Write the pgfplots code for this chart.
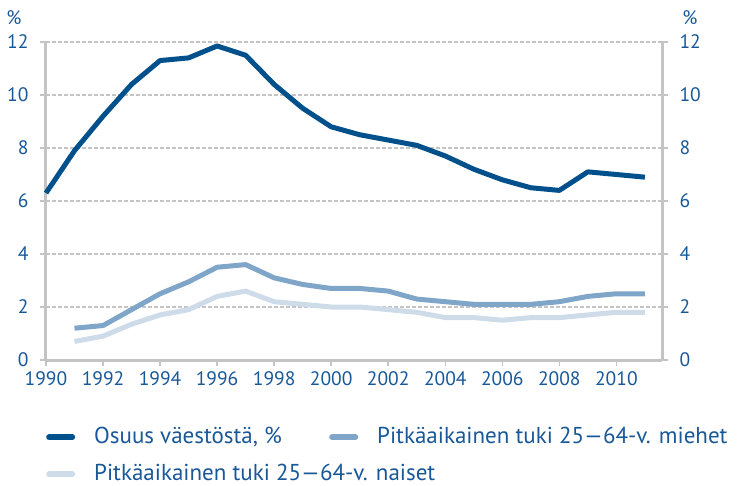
\documentclass[border=0pt]{standalone}
\usepackage{fontspec}
\setmainfont{PT Sans}
\usepackage{pgfplots}
\pgfplotsset{compat=1.18}
\definecolor{cMain}{RGB}{0,80,140}
\definecolor{cMen}{RGB}{127,166,200}
\definecolor{cWomen}{RGB}{206,220,234}
\definecolor{cText}{RGB}{25,88,152}
\definecolor{cGrid}{RGB}{196,196,196}
\begin{document}
\begin{tikzpicture}
\path[use as bounding box] (-46bp,-126bp) rectangle (691bp,360bp);
\begin{axis}[
  scale only axis, width=616bp, height=318bp,
  xmin=1990, xmax=2011.6, ymin=0, ymax=12,
  axis x line*=bottom, axis y line*=left,
  axis line style={cGrid, line width=3bp},
  xtick={1990,1992,...,2010}, ytick={0,2,...,12},
  tick align=outside, major tick length=6bp,
  tick style={cGrid, line width=1.5bp},
  ymajorgrids, major grid style={cGrid, line width=1.6bp, dash pattern=on 4bp off 2bp},
  /pgf/number format/1000 sep={}, /pgf/number format/assume math mode=true,
  tick label style={font=\fontsize{19.5bp}{22bp}\selectfont, text=cText},
  yticklabel style={xshift=-8bp},
  xticklabel style={yshift=-2bp},
  legend columns=2,
  legend cell align=left,
  legend image code/.code={\draw[#1, line width=6bp, line cap=round] (0bp,0bp) -- (23bp,0bp);},
  legend style={at={(axis description cs:0,0)}, anchor=north west, xshift=0bp, yshift=-67bp,
    draw=none, fill=none, font=\fontsize{23bp}{26bp}\selectfont, text=cText,
    inner sep=0pt, row sep=17bp,
    nodes={inner sep=0pt, text height=16bp, text depth=4bp},
    /tikz/every even column/.append style={column sep=0bp}},
  clip=false,
]
\addplot[cMain, line width=5bp, line join=round] coordinates {
(1990,6.3) (1991,7.9) (1992,9.2) (1993,10.4) (1994,11.3) (1995,11.4) (1996,11.85) (1997,11.5)
(1998,10.4) (1999,9.5) (2000,8.8) (2001,8.5) (2002,8.3) (2003,8.1) (2004,7.7) (2005,7.2)
(2006,6.8) (2007,6.5) (2008,6.4) (2009,7.1) (2010,7.0) (2011,6.9)};
\addlegendentry{\hspace{19bp}\makebox[235bp][l]{Osuus väestöstä, \%}}
\addplot[cMen, line width=5bp, line join=round] coordinates {
(1991,1.2) (1992,1.3) (1993,1.9) (1994,2.5) (1995,2.95) (1996,3.5) (1997,3.6) (1998,3.1)
(1999,2.85) (2000,2.7) (2001,2.7) (2002,2.6) (2003,2.3) (2004,2.2) (2005,2.1) (2006,2.1)
(2007,2.1) (2008,2.2) (2009,2.4) (2010,2.5) (2011,2.5)};
\addlegendentry{\hspace{19bp}Pitkäaikainen tuki 25—64-v. miehet}
\addplot[cWomen, line width=5bp, line join=round] coordinates {
(1991,0.7) (1992,0.9) (1993,1.35) (1994,1.7) (1995,1.9) (1996,2.4) (1997,2.6) (1998,2.2)
(1999,2.1) (2000,2.0) (2001,2.0) (2002,1.9) (2003,1.8) (2004,1.6) (2005,1.6) (2006,1.5)
(2007,1.6) (2008,1.6) (2009,1.7) (2010,1.8) (2011,1.8)};
\addlegendentry{\hspace{19bp}\makebox[235bp][l]{Pitkäaikainen tuki 25—64-v. naiset}}
\node[text=cText, font=\fontsize{19.5bp}{22bp}\selectfont] at ([xshift=-32bp,yshift=24bp]rel axis cs:0,1) {\%};
\node[text=cText, font=\fontsize{19.5bp}{22bp}\selectfont] at ([xshift=28bp,yshift=24bp]rel axis cs:1,1) {\%};
\end{axis}
\begin{axis}[
  scale only axis, width=616bp, height=318bp,
  xmin=1990, xmax=2011.6, ymin=0, ymax=12,
  axis x line=none, axis y line*=right,
  axis line style={cGrid, line width=3bp},
  ytick={0,2,...,12},
  tick align=outside, major tick length=6bp,
  tick style={cGrid, line width=1.5bp},
  /pgf/number format/assume math mode=true,
  tick label style={font=\fontsize{19.5bp}{22bp}\selectfont, text=cText},
  yticklabel style={xshift=8bp},
]
\addplot[draw=none] coordinates {(1990,0)};
\end{axis}
\end{tikzpicture}
\end{document}
